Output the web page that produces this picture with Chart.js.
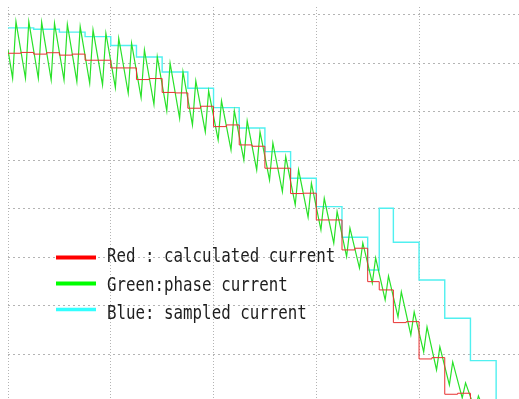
<!DOCTYPE html>
<html>
<head>
<meta charset="utf-8">
<script src="https://cdn.jsdelivr.net/npm/chart.js@4.4.1/dist/chart.umd.min.js"></script>
<style>
  html, body { margin: 0; padding: 0; background: #fff; }
  #wrap { width: 519px; height: 399px; }
</style>
</head>
<body>
<div id="wrap"><canvas id="scope"></canvas></div>
<script>
// scope grid: 4 samples per x division, 10 units per y division
const X_GRID = [0, 4, 8, 12, 16];
const Y_GRID = [10, 20, 30, 40, 50, 60, 70, 80];
const X_MIN = 0, X_MAX = 19.89;
const Y_MIN = 0.71, Y_MAX = 81.65;

const LABELS = ['Red : calculated current', 'Green:phase current', 'Blue: sampled current'];

// calculated current (step starts / level)
const RED_T = [0, 0.5, 1, 1.5, 2, 2.5, 3, 3.5, 4, 4.5, 5, 5.5, 6, 6.5, 7, 7.5, 8, 8.5, 9, 9.5,
  10, 10.5, 11, 11.5, 12, 12.5, 13, 13.5, 14, 14.45, 15, 15.5, 16, 16.5, 17, 17.5, 18];
const RED_I = [72.10, 72.27, 71.92, 72.21, 71.71, 71.92, 70.66, 70.66, 69.07, 69.07, 66.67, 66.88,
  64.01, 63.91, 60.75, 61.16, 56.95, 57.30, 53.17, 52.90, 48.36, 48.36, 43.13, 43.20, 37.68, 37.68,
  31.49, 31.84, 24.94, 23.23, 16.48, 16.68, 8.98, 9.25, 1.69, 1.90, -2];

// phase current: valleys and peaks of the PWM ripple
const GREEN_T = [0,
  0.18, 0.31, 0.68, 0.81, 1.18, 1.31, 1.68, 1.81, 2.18, 2.31, 2.68, 2.81, 3.18, 3.31, 3.68, 3.81,
  4.18, 4.31, 4.68, 4.81, 5.18, 5.31, 5.68, 5.81, 6.18, 6.31, 6.68, 6.81, 7.18, 7.31, 7.68, 7.81,
  8.18, 8.31, 8.68, 8.81, 9.18, 9.31, 9.68, 9.81, 10.18, 10.31, 10.68, 10.81, 11.18, 11.31, 11.68, 11.81,
  12.18, 12.31, 12.68, 12.81, 13.18, 13.31, 13.68, 13.81, 14.18, 14.31, 14.68, 14.81, 15.18, 15.31, 15.68, 15.81,
  16.18, 16.31, 16.68, 16.81, 17.18, 17.31, 17.68, 17.81, 18.18, 18.31, 18.68, 18.81];
const GREEN_I = [72.79,
  66.94, 78.63, 66.94, 78.63, 66.94, 78.50, 66.59, 78.30, 66.59, 78.09, 66.24, 77.60, 65.91, 76.92, 65.56, 76.23,
  65.00, 75.20, 63.84, 74.17, 62.94, 72.79, 61.57, 71.40, 60.19, 70.04, 58.68, 68.30, 57.30, 66.38, 55.85, 64.32,
  54.20, 62.25, 52.14, 60.19, 50.07, 58.13, 48.01, 55.85, 45.94, 53.58, 43.53, 50.75, 40.78, 48.01, 38.24, 45.26,
  35.62, 42.16, 32.87, 39.40, 30.11, 35.97, 27.75, 32.93, 24.67, 29.84, 21.16, 26.12, 17.65, 22.82, 13.94, 18.69,
  10.43, 15.59, 6.71, 11.46, 3.61, 8.36, 0.93, 4.03, -1.55, 1.34, -3.60, -0.52];

// sampled current (sample instants / held value)
const CYAN_T = [0, 1, 2, 3, 4, 5, 6, 7, 8, 9, 10, 11, 12, 13, 14, 14.45, 15, 16, 17, 18, 19];
const CYAN_I = [77.33, 77.06, 76.46, 75.53, 73.71, 71.34, 68.24, 64.88, 60.87, 56.68, 51.79, 46.29,
  40.43, 34.11, 27.36, 40.10, 33.08, 25.29, 17.39, 8.63, -2];

function points(ts, vs, hold) {
  const pts = ts.map((t, i) => ({ x: t, y: vs[i] }));
  if (hold) pts.push({ x: X_MAX, y: vs[vs.length - 1] });
  return pts;
}

const scopeLegend = {
  id: 'scopeLegend',
  afterDraw(chart) {
    const ctx = chart.ctx;
    const lineY = [257.5, 283.5, 309.5];
    const textY = [261.5, 290.5, 319];
    ctx.save();
    chart.data.datasets.forEach((ds, i) => {
      ctx.strokeStyle = ds.legendColor;
      ctx.lineWidth = ds.legendWidth;
      ctx.beginPath();
      ctx.moveTo(56, lineY[i]);
      ctx.lineTo(96, lineY[i]);
      ctx.stroke();

      ctx.save();
      ctx.translate(107, textY[i]);
      ctx.scale(0.79, 1);
      ctx.font = '20px "DejaVu Sans Mono"';
      ctx.fillStyle = '#1e1e1e';
      ctx.textBaseline = 'alphabetic';
      ctx.fillText(ds.label, 0, 0);
      ctx.restore();
    });
    ctx.restore();
  }
};

const gridAxis = (min, max, ticks, dash) => ({
  type: 'linear',
  min: min,
  max: max,
  afterBuildTicks: axis => { axis.ticks = ticks.map(v => ({ value: v })); },
  ticks: { display: false },
  grid: { color: '#b4b4b4', lineWidth: 1, drawTicks: false },
  border: { display: false, dash: dash }
});

new Chart(document.getElementById('scope'), {
  type: 'line',
  data: {
    datasets: [{
      label: LABELS[0],
      data: points(RED_T, RED_I, true),
      stepped: 'before',
      borderColor: 'rgb(232, 48, 48)',
      borderWidth: 1,
      order: 0,
      legendColor: '#ff0000',
      legendWidth: 4
    }, {
      label: LABELS[1],
      data: points(GREEN_T, GREEN_I, false),
      borderColor: 'rgb(40, 225, 40)',
      borderWidth: 1.2,
      order: 1,
      legendColor: '#00ff00',
      legendWidth: 4
    }, {
      label: LABELS[2],
      data: points(CYAN_T, CYAN_I, true),
      stepped: 'before',
      borderColor: 'rgb(80, 240, 240)',
      borderWidth: 1.4,
      order: 2,
      legendColor: '#33ffff',
      legendWidth: 3.5
    }]
  },
  options: {
    responsive: true,
    maintainAspectRatio: false,
    animation: false,
    events: [],
    layout: { padding: { left: 8, top: 7, right: 0, bottom: 0 } },
    elements: {
      point: { radius: 0 },
      line: { tension: 0 }
    },
    plugins: {
      legend: { display: false },
      tooltip: { enabled: false }
    },
    scales: {
      x: gridAxis(X_MIN, X_MAX, X_GRID, [1, 2]),
      y: gridAxis(Y_MIN, Y_MAX, Y_GRID, [2, 3])
    }
  },
  plugins: [scopeLegend]
});
</script>
</body>
</html>
